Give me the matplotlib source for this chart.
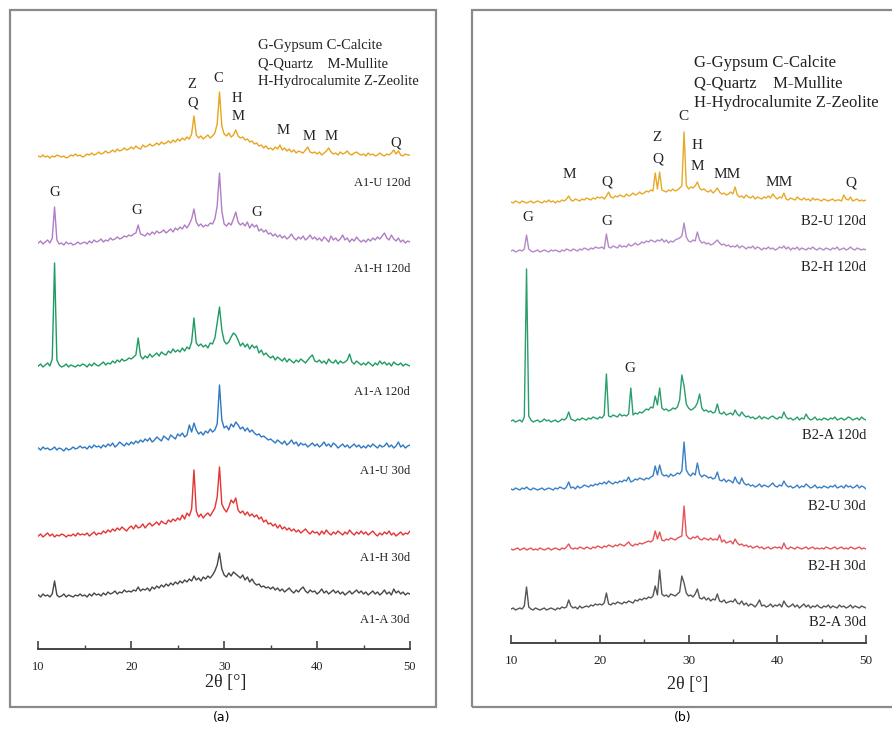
import numpy as np
import matplotlib.pyplot as plt
from matplotlib.patches import Rectangle
from matplotlib.ticker import MultipleLocator

plt.rcParams['font.family'] = ['Liberation Serif', 'DejaVu Serif']

# --- 2theta grid, 0.25 deg step (10..50) ---
two_theta = np.linspace(10, 50, 161)

# --- intensities (height above each trace's baseline) ---
# panel (a)
a1_u_120 = [2, 1, 3, 1, 2, 0, 2, 1, 3, 2, 1, 2, 0, 1, 3, 2, 4, 2, 3, 1,
            2, 4, 3, 5, 3, 4, 6, 4, 5, 7, 5, 6, 8, 6, 9, 7, 8, 10, 8, 9,
            11, 9, 12, 10, 9, 13, 11, 12, 14, 12, 13, 15, 13, 16, 14, 15, 17, 15, 18, 16,
            19, 17, 20, 18, 21, 19, 24, 42, 23, 20, 22, 19, 21, 23, 20, 22, 25, 34, 66, 32,
            24, 22, 25, 21, 23, 28, 22, 20, 21, 18, 19, 16, 17, 14, 15, 12, 13, 10, 12, 9,
            10, 8, 11, 9, 13, 8, 10, 7, 9, 6, 8, 5, 7, 6, 5, 8, 11, 6, 5, 6,
            4, 6, 3, 5, 7, 10, 6, 4, 5, 3, 6, 4, 5, 7, 4, 3, 5, 6, 4, 3,
            4, 2, 5, 3, 4, 2, 3, 5, 3, 2, 4, 3, 5, 8, 4, 7, 3, 2, 4, 3,
            3]
a1_h_120 = [3, 5, 2, 4, 6, 3, 8, 39, 6, 2, 3, 1, 4, 2, 3, 1, 2, 4, 2, 3,
            4, 2, 5, 3, 6, 4, 5, 7, 4, 6, 5, 8, 6, 7, 9, 7, 8, 10, 9, 11,
            10, 12, 13, 21, 12, 11, 10, 13, 11, 14, 12, 15, 13, 14, 16, 13, 15, 17, 14, 18,
            16, 19, 17, 21, 18, 22, 27, 37, 24, 20, 22, 19, 21, 20, 23, 22, 27, 40, 73, 35,
            22, 20, 23, 21, 27, 34, 24, 21, 23, 20, 24, 18, 22, 19, 21, 15, 17, 14, 16, 12,
            13, 10, 12, 9, 11, 8, 10, 7, 9, 12, 8, 6, 9, 7, 10, 6, 8, 11, 7, 9,
            6, 8, 5, 9, 7, 4, 10, 6, 8, 5, 7, 11, 6, 8, 4, 7, 5, 9, 6, 4,
            6, 4, 7, 5, 8, 6, 9, 7, 10, 13, 8, 6, 11, 7, 5, 8, 4, 6, 3, 5,
            4]
a1_a_120 = [2, 4, 1, 3, 5, 2, 9, 105, 8, 3, 1, 2, 4, 1, 3, 2, 1, 3, 2, 4,
            3, 1, 4, 2, 5, 3, 2, 4, 6, 3, 5, 4, 7, 5, 8, 6, 9, 7, 8, 10,
            9, 11, 13, 30, 12, 9, 12, 10, 14, 11, 13, 15, 12, 16, 14, 13, 17, 15, 19, 16,
            18, 16, 20, 17, 21, 19, 26, 50, 25, 22, 24, 21, 23, 20, 25, 24, 30, 45, 61, 38,
            27, 24, 26, 31, 35, 33, 28, 22, 25, 21, 24, 19, 23, 20, 22, 15, 18, 13, 15, 12,
            10, 12, 8, 11, 9, 7, 10, 6, 9, 7, 5, 8, 6, 9, 7, 5, 8, 11, 13, 7,
            6, 8, 5, 7, 4, 9, 6, 5, 8, 4, 7, 5, 6, 8, 14, 6, 4, 7, 5, 3,
            5, 3, 6, 4, 2, 5, 3, 7, 4, 6, 3, 5, 2, 6, 4, 3, 5, 2, 4, 3,
            2]
a1_u_30 = [2, 0, 3, 1, 2, 0, 1, 3, 0, 2, 1, -1, 2, 0, 1, 3, 1, 2, 4, 2,
           3, 1, 4, 2, 5, 3, 4, 2, 5, 3, 6, 4, 7, 3, 5, 8, 6, 4, 7, 5,
           8, 6, 9, 7, 10, 8, 11, 9, 12, 8, 10, 13, 11, 9, 14, 12, 10, 15, 13, 11,
           16, 14, 17, 13, 15, 25, 18, 27, 20, 16, 18, 15, 19, 17, 21, 18, 20, 26, 65, 30,
           22, 24, 20, 26, 23, 28, 25, 21, 23, 19, 22, 18, 20, 17, 15, 16, 13, 14, 12, 10,
           11, 9, 7, 10, 8, 6, 9, 5, 7, 10, 6, 8, 4, 7, 5, 6, 3, 5, 7, 4,
           6, 3, 5, 8, 4, 6, 3, 7, 5, 2, 4, 6, 3, 5, 2, 4, 6, 3, 5, 2,
           4, 2, 5, 3, 6, 4, 2, 5, 3, 4, 7, 3, 5, 2, 4, 8, 3, 5, 2, 4,
           5]
a1_h_30 = [1, 3, 0, 2, 4, 1, 3, 0, 2, 1, 3, 2, 0, 2, 1, 3, 1, 4, 2, 3,
           2, 4, 1, 3, 5, 2, 4, 3, 6, 4, 7, 5, 8, 6, 9, 7, 10, 8, 6, 9,
           11, 8, 12, 9, 10, 13, 9, 12, 14, 11, 13, 15, 12, 16, 14, 13, 17, 15, 18, 16,
           19, 17, 22, 18, 24, 21, 28, 67, 26, 20, 23, 19, 22, 24, 21, 25, 29, 40, 70, 33,
           28, 25, 30, 37, 34, 39, 27, 24, 26, 22, 25, 21, 23, 20, 22, 18, 20, 15, 17, 13,
           14, 11, 13, 9, 12, 8, 10, 7, 9, 6, 8, 5, 7, 4, 6, 8, 5, 3, 6, 4,
           5, 2, 6, 3, 7, 4, 2, 5, 3, 6, 4, 2, 5, 3, 7, 4, 2, 5, 3, 6,
           3, 5, 2, 4, 6, 3, 1, 4, 2, 5, 3, 6, 2, 4, 1, 3, 5, 2, 4, 3,
           6]
a1_a_30 = [2, 0, 3, 1, 2, 0, 3, 16, 2, 0, 1, 3, 0, 2, 1, 0, 2, 1, 3, 1,
           2, 0, 3, 1, 4, 2, 3, 1, 4, 2, 5, 3, 4, 6, 3, 5, 4, 7, 5, 6,
           5, 7, 6, 10, 6, 8, 7, 9, 6, 10, 8, 11, 9, 12, 10, 13, 11, 14, 12, 15,
           13, 16, 14, 17, 15, 18, 16, 21, 17, 19, 16, 20, 18, 21, 19, 22, 26, 32, 44, 28,
           22, 20, 24, 21, 25, 23, 21, 19, 22, 17, 20, 15, 18, 14, 12, 13, 10, 11, 9, 10,
           8, 10, 7, 9, 6, 8, 5, 7, 9, 6, 4, 7, 5, 8, 10, 6, 4, 7, 5, 6,
           3, 5, 8, 4, 6, 3, 5, 7, 4, 6, 3, 5, 2, 4, 6, 3, 5, 7, 4, 6,
           3, 5, 2, 4, 6, 3, 5, 2, 4, 7, 3, 5, 2, 8, 4, 6, 3, 5, 2, 4,
           3]

# panel (b)
b2_u_120 = [1, 0, 2, 1, 0, 2, 1, 0, 1, 2, 0, 1, 2, 1, 0, 2, 1, 3, 1, 2,
            0, 2, 1, 3, 2, 4, 7, 3, 2, 4, 3, 2, 4, 3, 5, 4, 3, 5, 4, 6,
            5, 6, 4, 7, 11, 6, 5, 7, 6, 8, 7, 6, 9, 7, 8, 10, 8, 9, 11, 9,
            10, 12, 11, 13, 12, 30, 14, 31, 13, 12, 11, 13, 12, 14, 12, 13, 15, 17, 71, 18,
            14, 16, 15, 17, 21, 15, 13, 14, 12, 11, 13, 10, 12, 15, 11, 9, 10, 8, 9, 11,
            9, 16, 8, 6, 7, 5, 8, 6, 5, 7, 4, 6, 5, 4, 6, 5, 7, 5, 9, 6,
            4, 6, 5, 10, 4, 3, 5, 4, 3, 6, 4, 3, 5, 3, 4, 2, 5, 3, 4, 3,
            2, 4, 3, 2, 3, 4, 2, 3, 3, 2, 8, 4, 3, 6, 2, 3, 4, 2, 3, 2,
            3]
b2_h_120 = [1, 2, 0, 1, 2, 1, 3, 17, 3, 1, 0, 1, 2, 0, 1, 2, 1, 0, 2, 1,
            2, 1, 0, 2, 1, 3, 2, 1, 3, 2, 1, 3, 2, 4, 3, 2, 4, 3, 5, 4,
            4, 5, 3, 18, 5, 4, 6, 5, 4, 7, 5, 6, 5, 8, 6, 7, 9, 7, 8, 10,
            9, 11, 10, 12, 11, 10, 12, 11, 13, 10, 12, 9, 11, 10, 12, 13, 14, 16, 29, 15,
            11, 10, 12, 11, 20, 12, 9, 10, 8, 9, 7, 8, 10, 12, 9, 7, 8, 6, 7, 5,
            6, 5, 7, 4, 6, 5, 3, 5, 4, 6, 3, 5, 4, 2, 4, 3, 5, 3, 4, 2,
            3, 5, 4, 6, 3, 5, 2, 4, 3, 5, 2, 4, 3, 2, 4, 3, 5, 3, 2, 4,
            3, 2, 4, 3, 2, 4, 3, 5, 2, 3, 4, 2, 3, 5, 3, 2, 4, 3, 2, 3,
            2]
b2_a_120 = [1, 2, 0, 1, 2, 0, 5, 153, 6, 2, 0, 1, 2, 0, 1, 3, 1, 2, 0, 1,
            2, 0, 1, 3, 2, 4, 10, 3, 2, 1, 3, 2, 4, 3, 2, 4, 3, 5, 4, 3,
            5, 4, 7, 48, 6, 5, 7, 6, 5, 8, 6, 7, 6, 8, 34, 7, 9, 8, 10, 9,
            11, 13, 12, 15, 14, 26, 17, 34, 14, 12, 13, 11, 12, 14, 13, 15, 22, 47, 36, 18,
            14, 12, 13, 15, 19, 28, 14, 11, 12, 10, 11, 9, 10, 18, 9, 8, 10, 7, 8, 9,
            7, 12, 8, 6, 10, 7, 5, 6, 4, 5, 3, 4, 6, 3, 5, 4, 3, 5, 6, 4,
            3, 5, 4, 10, 5, 3, 4, 2, 3, 5, 2, 4, 3, 8, 4, 2, 3, 5, 2, 3,
            2, 4, 3, 2, 4, 3, 5, 2, 3, 4, 2, 3, 5, 4, 2, 3, 4, 2, 5, 3,
            2]
b2_u_30 = [1, 0, 2, 1, 0, 2, 1, 3, 1, 0, 2, 1, 0, 1, 2, 0, 1, 2, 1, 0,
           2, 1, 3, 2, 1, 3, 8, 2, 3, 1, 4, 2, 3, 5, 4, 3, 5, 4, 6, 5,
           7, 6, 8, 6, 9, 7, 6, 8, 7, 9, 8, 10, 9, 13, 8, 9, 11, 10, 12, 11,
           10, 12, 11, 13, 14, 24, 15, 25, 16, 14, 15, 13, 16, 14, 15, 17, 16, 19, 48, 20,
           16, 14, 17, 15, 27, 16, 13, 15, 14, 12, 13, 11, 12, 18, 10, 9, 11, 8, 10, 9,
           7, 13, 8, 6, 12, 7, 5, 6, 4, 5, 3, 4, 6, 3, 5, 4, 3, 5, 7, 4,
           3, 5, 4, 9, 5, 3, 4, 2, 3, 5, 2, 4, 3, 6, 4, 2, 3, 5, 2, 3,
           2, 4, 3, 2, 4, 3, 5, 2, 3, 4, 2, 5, 3, 4, 2, 3, 5, 2, 4, 3,
           1]
b2_h_30 = [1, 0, 1, 2, 0, 1, 2, 0, 1, 2, 0, 1, 0, 2, 1, 0, 1, 2, 0, 1,
           2, 1, 0, 2, 1, 3, 6, 2, 1, 2, 1, 3, 2, 1, 3, 2, 1, 3, 2, 4,
           3, 2, 4, 3, 5, 4, 3, 5, 4, 6, 5, 4, 6, 8, 5, 4, 6, 5, 7, 6,
           7, 8, 9, 8, 10, 19, 11, 18, 10, 9, 11, 10, 12, 11, 10, 12, 13, 14, 44, 15,
           12, 11, 13, 12, 14, 11, 10, 12, 11, 10, 12, 10, 11, 10, 15, 8, 10, 7, 8, 9,
           6, 11, 7, 5, 6, 4, 5, 3, 4, 2, 3, 4, 2, 3, 1, 2, 3, 1, 2, 3,
           2, 3, 1, 7, 2, 1, 3, 2, 1, 3, 2, 1, 2, 3, 1, 2, 3, 1, 2, 1,
           2, 1, 3, 2, 1, 2, 3, 1, 2, 3, 1, 2, 1, 3, 2, 1, 2, 3, 1, 2,
           1]
b2_a_30 = [1, 2, 0, 1, 2, 1, 4, 23, 3, 1, 0, 2, 1, 0, 1, 2, 0, 1, 2, 1,
           0, 2, 1, 3, 2, 3, 10, 4, 2, 3, 1, 4, 2, 3, 4, 3, 5, 4, 6, 5,
           6, 5, 7, 17, 6, 5, 7, 6, 8, 7, 6, 8, 7, 9, 8, 7, 10, 9, 11, 10,
           12, 11, 13, 12, 14, 24, 15, 40, 16, 14, 15, 13, 16, 15, 14, 16, 18, 34, 27, 17,
           14, 15, 13, 16, 21, 12, 11, 13, 10, 12, 9, 11, 10, 16, 9, 8, 10, 7, 8, 9,
           8, 11, 7, 6, 9, 5, 7, 4, 6, 5, 3, 6, 10, 4, 5, 3, 4, 6, 3, 5,
           4, 6, 3, 9, 5, 3, 4, 6, 3, 5, 2, 4, 6, 3, 5, 2, 4, 3, 5, 3,
           2, 4, 3, 5, 2, 4, 3, 2, 5, 3, 4, 2, 3, 5, 2, 4, 3, 2, 4, 3,
           2]

labels_a = ["A1-U 120d", "A1-H 120d", "A1-A 120d", "A1-U 30d", "A1-H 30d", "A1-A 30d"]
labels_b = ["B2-U 120d", "B2-H 120d", "B2-A 120d", "B2-U 30d", "B2-H 30d", "B2-A 30d"]
series_a = [a1_u_120, a1_h_120, a1_a_120, a1_u_30, a1_h_30, a1_a_30]
series_b = [b2_u_120, b2_h_120, b2_a_120, b2_u_30, b2_h_30, b2_a_30]

colors_a = ["#E7A51E", "#B07DC5", "#1E9B62", "#2F78C2", "#E43333", "#474747"]
colors_b = ["#E7A927", "#B489C8", "#2A9E6C", "#3A80C6", "#E65357", "#555555"]

# vertical stacking of the traces (axis units ~ pixels)
offsets_a = [491, 403, 281, 199, 112, 52]
label_y_a = [466, 380, 257, 178, 91, 29]
offsets_b = [440, 391, 221, 153, 93, 33]
label_y_b = [421, 375, 207, 136, 76, 21]

# phase letters: (text, 2theta, height)
phases_a = [("Z", 26.5, 565), ("Q", 26.6, 546), ("C", 29.4, 570),
            ("H", 31.4, 551), ("M", 31.5, 532), ("M", 36.3, 519),
            ("M", 39.1, 512), ("M", 41.5, 512), ("Q", 48.5, 506),
            ("G", 11.8, 456), ("G", 20.6, 438), ("G", 33.5, 436)]
phases_b = [("C", 29.4, 526), ("Z", 26.45, 505), ("Q", 26.6, 484),
            ("H", 31.0, 497), ("M", 31.0, 476), ("M", 16.6, 468),
            ("Q", 20.8, 461), ("MM", 34.3, 468), ("MM", 40.2, 460),
            ("Q", 48.3, 460), ("G", 11.9, 425), ("G", 20.8, 421),
            ("G", 23.4, 274)]

legend_lines = ["G-Gypsum C-Calcite", "Q-Quartz    M-Mullite", "H-Hydrocalumite Z-Zeolite"]

W, H = 892, 729
fig = plt.figure(figsize=(W / 100, H / 100), dpi=100)


def px(x, y):
    """pixel (from top-left) -> figure fraction"""
    return x / W, 1 - y / H


def panel(rect_px, ylim, series, colors, offsets, names, name_y, phases,
          fs_phase, fs_name, fs_tick, lw):
    x0, ytop, x1, ybot = rect_px
    ax = fig.add_axes([x0 / W, 1 - ybot / H, (x1 - x0) / W, (ybot - ytop) / H])
    for vals, c, off in zip(series, colors, offsets):
        ax.plot(two_theta, np.array(vals) + off, color=c, lw=lw)
    for name, yy in zip(names, name_y):
        ax.text(50, yy, name, ha="right", va="center", fontsize=fs_name, color="#222222")
    for txt, xx, yy in phases:
        ax.text(xx, yy, txt, ha="center", va="center", fontsize=fs_phase, color="#222222")

    ax.set_xlim(10, 50)
    ax.set_ylim(0, ylim)
    for s in ["left", "right", "top"]:
        ax.spines[s].set_visible(False)
    ax.spines["bottom"].set_color("#444444")
    ax.spines["bottom"].set_linewidth(1.4)
    ax.set_yticks([])
    ax.xaxis.set_major_locator(MultipleLocator(10))
    ax.xaxis.set_minor_locator(MultipleLocator(5))
    ax.tick_params(axis="x", which="major", direction="in", length=6, width=1.2,
                   color="#444444", labelsize=fs_tick, pad=9, labelcolor="#222222")
    ax.tick_params(axis="x", which="minor", direction="in", length=3, width=1.0,
                   color="#444444")
    ax.patch.set_alpha(0)
    return ax


# --- panel (a) ---
panel((38.3, 20, 410, 649), 629, series_a, colors_a, offsets_a, labels_a, label_y_a,
      phases_a, fs_phase=10.5, fs_name=9, fs_tick=9, lw=1.0)
# --- panel (b) ---
panel((511, 20, 866, 643), 623, series_b, colors_b, offsets_b, labels_b, label_y_b,
      phases_b, fs_phase=11, fs_name=10.5, fs_tick=9.5, lw=1.0)

# legends (plain text blocks)
for i, line in enumerate(legend_lines):
    fig.text(*px(258, 46 + 17.5 * i), line, fontsize=10.5, va="center", color="#222222")
    fig.text(*px(694, 63 + 20 * i), line, fontsize=12, va="center", color="#222222")

# axis titles
fig.text(*px(226, 683), "2θ [°]", fontsize=13, ha="center", va="center", color="#222222")
fig.text(*px(688, 685), "2θ [°]", fontsize=13, ha="center", va="center", color="#222222")

# panel frames
fig.patches.append(Rectangle(px(10, 707), 426 / W, 697 / H, transform=fig.transFigure,
                             fill=False, edgecolor="#8a8a8a", lw=1.6))
fig.patches.append(Rectangle(px(472, 707), 440 / W, 697 / H, transform=fig.transFigure,
                             fill=False, edgecolor="#8a8a8a", lw=1.6))

# captions
fig.text(*px(222, 718), "(a)", fontsize=9, ha="center", va="center", family="DejaVu Sans")
fig.text(*px(683, 718), "(b)", fontsize=9, ha="center", va="center", family="DejaVu Sans")

fig.savefig("out.png", dpi=100)
